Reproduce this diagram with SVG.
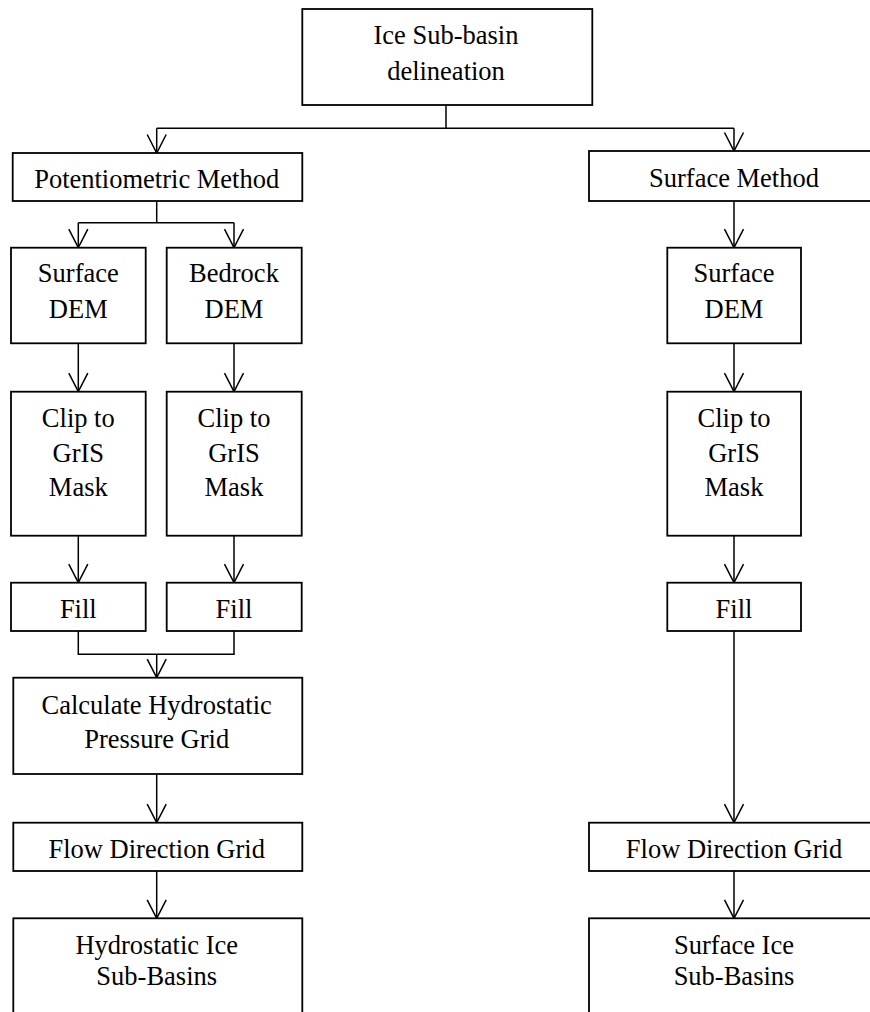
<svg xmlns="http://www.w3.org/2000/svg" width="870" height="1012" viewBox="0 0 870 1012">
<defs>
<style>
.box{fill:#fff;stroke:#000;stroke-width:1.8}
.t{font-family:'Liberation Serif','Times New Roman',Times,'DejaVu Serif',serif;font-size:26.5px;fill:#000;text-anchor:middle}
.c{fill:none;stroke:#000;stroke-width:1.5}
.a{marker-end:url(#ah)}
</style>
<marker id="ah" markerUnits="userSpaceOnUse" viewBox="-20 -11 22 22" markerWidth="22" markerHeight="22" refX="0" refY="0" orient="auto" overflow="visible">
<path d="M-18.5,-9.5 L0,0 L-18.5,9.5" fill="none" stroke="#000" stroke-width="1.5"/>
</marker>
</defs>
<rect width="870" height="1012" fill="#fff"/>
<g id="connectors">
<path class="c" d="M446,105 V128.3 M156.7,128.3 H734"/>
<path class="c a" d="M156.7,128.3 V153"/>
<path class="c a" d="M734,128.3 V151"/>
<path class="c" d="M156.7,201 V222.7 M78.3,222.7 H234"/>
<path class="c a" d="M78.3,222.7 V247.7"/>
<path class="c a" d="M234,222.7 V247.7"/>
<path class="c a" d="M734,201 V247.7"/>
<path class="c a" d="M78.3,343.3 V391.7"/>
<path class="c a" d="M234,343.3 V391.7"/>
<path class="c a" d="M734,343.3 V391.7"/>
<path class="c a" d="M78.3,535.7 V582.7"/>
<path class="c a" d="M234,535.7 V582.7"/>
<path class="c a" d="M734,535.7 V582.7"/>
<path class="c" d="M78.3,631 V654.3 H234 V631"/>
<path class="c a" d="M156.7,654.3 V677.7"/>
<path class="c a" d="M156.7,774 V822.7"/>
<path class="c a" d="M734,631 V822.7"/>
<path class="c a" d="M156.7,871 V918.3"/>
<path class="c a" d="M734,871 V918.3"/>
</g>
<g id="n-top"><rect class="box" x="302.3" y="9" width="290" height="96"/><text class="t" font-family="Liberation Serif, serif" x="446" y="44.3">Ice Sub-basin</text><text class="t" x="446" y="80">delineation</text></g>
<g id="n-pot"><rect class="box" x="12.7" y="153" width="289.6" height="48"/><text class="t" x="156.7" y="187.7">Potentiometric Method</text></g>
<g id="n-surfm"><rect class="box" x="589" y="151" width="290" height="50"/><text class="t" x="734" y="186.7">Surface Method</text></g>
<g id="n-sdem1"><rect class="box" x="11" y="247.7" width="134.7" height="95.6"/><text class="t" x="78.3" y="282.3">Surface</text><text class="t" x="78.3" y="317.7">DEM</text></g>
<g id="n-bdem"><rect class="box" x="166.7" y="247.7" width="135" height="95.6"/><text class="t" x="234" y="282.3">Bedrock</text><text class="t" x="234" y="317.7">DEM</text></g>
<g id="n-sdem2"><rect class="box" x="667.3" y="247.7" width="133.7" height="95.6"/><text class="t" x="734" y="282.3">Surface</text><text class="t" x="734" y="317.7">DEM</text></g>
<g id="n-clip1"><rect class="box" x="11" y="391.7" width="134.7" height="144"/><text class="t" x="78.3" y="426.7">Clip to</text><text class="t" x="78.3" y="461.7">GrIS</text><text class="t" x="78.3" y="496.3">Mask</text></g>
<g id="n-clip2"><rect class="box" x="166.7" y="391.7" width="135" height="144"/><text class="t" x="234" y="426.7">Clip to</text><text class="t" x="234" y="461.7">GrIS</text><text class="t" x="234" y="496.3">Mask</text></g>
<g id="n-clip3"><rect class="box" x="667.3" y="391.7" width="133.7" height="144"/><text class="t" x="734" y="426.7">Clip to</text><text class="t" x="734" y="461.7">GrIS</text><text class="t" x="734" y="496.3">Mask</text></g>
<g id="n-fill1"><rect class="box" x="11" y="582.7" width="134.7" height="48.3"/><text class="t" x="78.3" y="617.7">Fill</text></g>
<g id="n-fill2"><rect class="box" x="166.7" y="582.7" width="135" height="48.3"/><text class="t" x="234" y="617.7">Fill</text></g>
<g id="n-fill3"><rect class="box" x="667.3" y="582.7" width="133.7" height="48.3"/><text class="t" x="734" y="617.7">Fill</text></g>
<g id="n-calc"><rect class="box" x="13.3" y="677.7" width="289" height="96.3"/><text class="t" x="156.7" y="714">Calculate Hydrostatic</text><text class="t" x="156.7" y="748.3">Pressure Grid</text></g>
<g id="n-flow1"><rect class="box" x="13.3" y="822.7" width="289" height="48.3"/><text class="t" x="156.7" y="857.7">Flow Direction Grid</text></g>
<g id="n-flow2"><rect class="box" x="589" y="822.7" width="290" height="48.3"/><text class="t" x="734" y="857.7">Flow Direction Grid</text></g>
<g id="n-hyd"><rect class="box" x="13.3" y="918.3" width="289" height="110"/><text class="t" x="156.7" y="954">Hydrostatic Ice</text><text class="t" x="156.7" y="985">Sub-Basins</text></g>
<g id="n-surf"><rect class="box" x="589" y="918.3" width="290" height="110"/><text class="t" x="734" y="954">Surface Ice</text><text class="t" x="734" y="985">Sub-Basins</text></g>
</svg>
